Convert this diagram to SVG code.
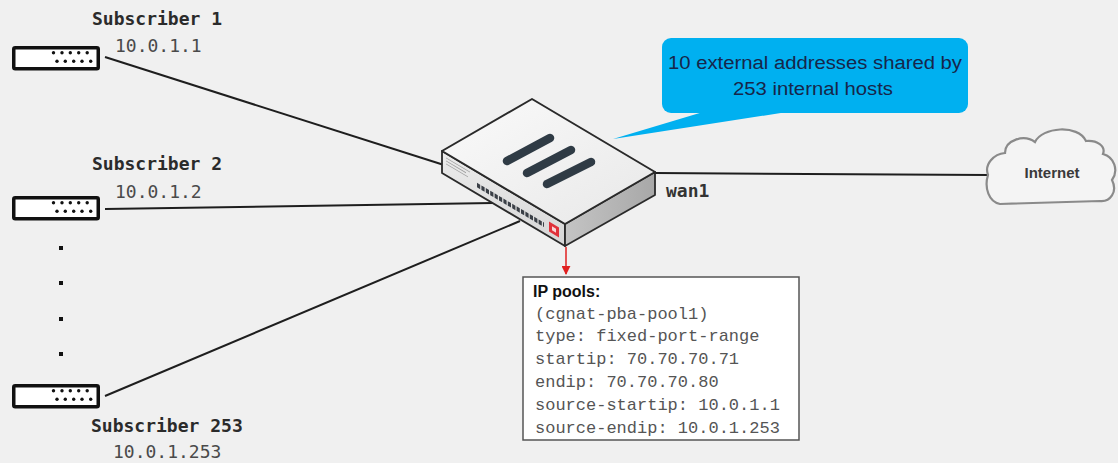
<svg xmlns="http://www.w3.org/2000/svg" width="1118" height="463" viewBox="0 0 1118 463">
  <style>
    .sub-name { font-family: "DejaVu Sans Mono", "Liberation Mono", monospace; font-size: 18px; font-weight: bold; fill: #2b2b2b; }
    .sub-ip { font-family: "DejaVu Sans Mono", "Liberation Mono", monospace; font-size: 18px; fill: #4a4a4a; }
    .link { stroke: #1e1e1e; stroke-width: 2; fill: none; }
    .pool { font-family: "Liberation Mono", "Courier New", monospace; font-size: 17px; fill: #555; }
    .callout-text { font-family: "Liberation Sans", Arial, sans-serif; font-size: 18px; fill: #17264a; text-anchor: middle; }
  </style>
  <defs>
    <!-- subscriber CPE box -->
    <g id="cpe">
      <rect x="1.75" y="1.75" width="84.5" height="21" rx="1.5" fill="#ffffff" stroke="#111" stroke-width="3.5"/>
      <g fill="#111">
        <circle cx="41.5" cy="6.8" r="1.7"/><circle cx="50" cy="6.8" r="1.7"/><circle cx="58.3" cy="6.8" r="1.7"/><circle cx="66.7" cy="6.8" r="1.7"/><circle cx="75.2" cy="6.8" r="1.7"/>
        <circle cx="45" cy="15.2" r="1.7"/><circle cx="53.3" cy="15.2" r="1.7"/><circle cx="61.7" cy="15.2" r="1.7"/><circle cx="70" cy="15.2" r="1.7"/><circle cx="78.7" cy="15.2" r="1.7"/>
      </g>
    </g>
    <linearGradient id="topFace" x1="0" y1="0" x2="1" y2="1">
      <stop offset="0" stop-color="#fafafa"/>
      <stop offset="1" stop-color="#e8e8e8"/>
    </linearGradient>
    <linearGradient id="frontFace" x1="0" y1="0" x2="0" y2="1">
      <stop offset="0" stop-color="#ececec"/>
      <stop offset="1" stop-color="#d6d6d6"/>
    </linearGradient>
    <linearGradient id="sideFace" x1="0" y1="0" x2="1" y2="0">
      <stop offset="0" stop-color="#c4c4c4"/>
      <stop offset="1" stop-color="#a8a8a8"/>
    </linearGradient>
    <marker id="redArrow" viewBox="0 0 10 10" refX="9" refY="5" markerWidth="6" markerHeight="6" orient="auto">
      <path d="M0,0 L10,5 L0,10 z" fill="#e02020"/>
    </marker>
  </defs>

  <rect width="1118" height="463" fill="#f0f0f0"/>

  <!-- links -->
  <g id="connectors">
    <line class="link" x1="105" y1="57" x2="444" y2="165"/>
    <line class="link" x1="105" y1="209" x2="493" y2="203"/>
    <line class="link" x1="105" y1="396" x2="520" y2="221"/>
    <line class="link" x1="655" y1="173" x2="988" y2="175"/>
    <line x1="566" y1="247" x2="566" y2="274" stroke="#e02020" stroke-width="1.5" marker-end="url(#redArrow)"/>
  </g>

  <!-- subscribers -->
  <g id="subscriber-1">
    <use href="#cpe" x="12" y="46"/>
    <text class="sub-name" x="92" y="25">Subscriber 1</text>
    <text class="sub-ip" x="115" y="52">10.0.1.1</text>
  </g>
  <g id="subscriber-2">
    <use href="#cpe" x="12" y="196"/>
    <text class="sub-name" x="92" y="170">Subscriber 2</text>
    <text class="sub-ip" x="115" y="198">10.0.1.2</text>
  </g>
  <g id="ellipsis" fill="#111">
    <rect x="59" y="246" width="4" height="4"/>
    <rect x="59" y="281" width="4" height="4"/>
    <rect x="59" y="317" width="4" height="4"/>
    <rect x="59" y="352" width="4" height="4"/>
  </g>
  <g id="subscriber-253">
    <use href="#cpe" x="12" y="384"/>
    <text class="sub-name" x="91" y="432">Subscriber 253</text>
    <text class="sub-ip" x="113" y="458">10.0.1.253</text>
  </g>

  <!-- FortiGate appliance -->
  <g id="fortigate">
    <polygon points="442,151 565,224 565,246 442,173" fill="url(#frontFace)" stroke="#2a2a2a" stroke-width="1.8" stroke-linejoin="round"/>
    <polygon points="565,224 655,172 655,195 565,246" fill="url(#sideFace)" stroke="#2a2a2a" stroke-width="1.8" stroke-linejoin="round"/>
    <polygon points="532,99 655,172 565,224 442,151" fill="url(#topFace)" stroke="#2a2a2a" stroke-width="2" stroke-linejoin="round"/>
    <!-- front panel, drawn in face-aligned coordinates -->
    <g transform="matrix(1 0.5935 0 1 0 -262.3)">
      <g stroke="#9a9a9a" stroke-width="0.8">
        <line x1="446" y1="155.5" x2="470" y2="155.5"/>
        <line x1="446" y1="158.5" x2="466" y2="158.5"/>
        <line x1="446" y1="161.5" x2="468" y2="161.5"/>
      </g>
      <line x1="477" y1="164.3" x2="544" y2="164.3" stroke="#3a3f46" stroke-width="4.5" stroke-dasharray="3.2 1.2"/>
      <rect x="549" y="158" width="10" height="10" fill="#e0313a"/>
      <rect x="552" y="161" width="4" height="4" fill="#ffffff" opacity="0.8"/>
    </g>
    <g stroke="#2f3b45" stroke-width="8.5" stroke-linecap="round">
      <line x1="507" y1="161" x2="550" y2="138"/>
      <line x1="527" y1="173" x2="571" y2="150"/>
      <line x1="547" y1="184" x2="591" y2="162"/>
    </g>
    <text x="666" y="197" font-family="DejaVu Sans Mono, Liberation Mono, monospace" font-size="18" font-weight="bold" fill="#333">wan1</text>
  </g>

  <!-- callout -->
  <g id="callout">
    <path d="M703,112 L613,139 L787,112 Z" fill="#00b0f0"/>
    <rect x="662" y="38" width="306" height="75" rx="9" fill="#00b0f0"/>
    <text class="callout-text" x="815" y="69" textLength="294" lengthAdjust="spacingAndGlyphs">10 external addresses shared by</text>
    <text class="callout-text" x="813" y="95" textLength="160" lengthAdjust="spacingAndGlyphs">253 internal hosts</text>
  </g>

  <!-- internet cloud -->
  <g id="internet">
    <path d="M988,175 C984,164 994,154 1005,153 C1005,140 1024,134 1035,142 C1042,127 1078,124 1086,141 C1097,140 1106,146 1103,154 C1114,157 1119,170 1112,180 C1118,192 1110,202 1100,201 L1000,204 C989,202 984,188 988,175 Z" fill="#f4f4f4" stroke="#8a8a8a" stroke-width="2.2"/>
    <text x="1052" y="178" font-family="Liberation Sans, Arial, sans-serif" font-size="15" font-weight="bold" fill="#3a3a3a" text-anchor="middle">Internet</text>
  </g>

  <!-- ip pool configuration -->
  <g id="ip-pools">
    <rect x="523" y="277" width="276" height="163" fill="#ffffff" stroke="#555" stroke-width="1.5"/>
    <text x="533" y="297" font-family="Liberation Sans, Arial, sans-serif" font-size="16" font-weight="bold" fill="#111">IP pools:</text>
    <text class="pool" x="535" y="319">(cgnat-pba-pool1)</text>
    <text class="pool" x="535" y="341">type: fixed-port-range</text>
    <text class="pool" x="535" y="364">startip: 70.70.70.71</text>
    <text class="pool" x="535" y="387">endip: 70.70.70.80</text>
    <text class="pool" x="535" y="410">source-startip: 10.0.1.1</text>
    <text class="pool" x="535" y="433">source-endip: 10.0.1.253</text>
  </g>
</svg>
